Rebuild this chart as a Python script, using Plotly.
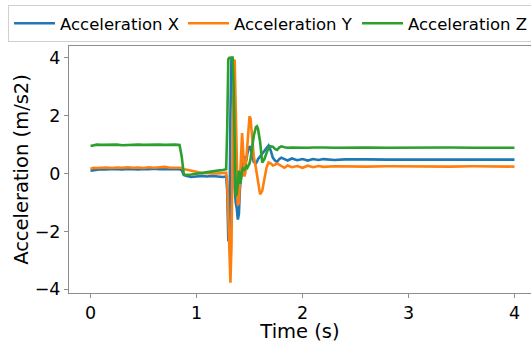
import plotly.graph_objects as go

# Time (s)
time = [0.00, 0.03, 0.06, 0.10, 0.15, 0.20, 0.25, 0.30, 0.35, 0.40, 0.45, 0.50, 0.55, 0.60, 0.65,
        0.70, 0.75, 0.80, 0.84, 0.86, 0.88, 0.90, 0.95, 1.00, 1.05, 1.10, 1.15, 1.20, 1.25, 1.28,
        1.29, 1.30, 1.31, 1.32, 1.33, 1.34, 1.35, 1.36, 1.37, 1.38, 1.39, 1.40, 1.41, 1.42, 1.43,
        1.44, 1.45, 1.46, 1.47, 1.48, 1.50, 1.51, 1.52, 1.54, 1.56, 1.57, 1.58, 1.60, 1.62, 1.64,
        1.66, 1.68, 1.70, 1.72, 1.74, 1.76, 1.78, 1.80, 1.83, 1.86, 1.90, 1.95, 2.00, 2.05, 2.10,
        2.15, 2.20, 2.30, 2.40, 2.50, 2.60, 2.80, 3.00, 3.20, 3.40, 3.60, 3.80, 4.00]

acc_x = [0.10, 0.12, 0.13, 0.15, 0.14, 0.16, 0.15, 0.14, 0.16, 0.15, 0.14, 0.16, 0.15, 0.17, 0.15,
         0.16, 0.15, 0.16, 0.15, 0.12, -0.05, -0.08, -0.12, -0.10, -0.08, -0.10, -0.08, -0.10, -0.12, -0.10,
         -0.60, -2.30, -2.30, 2.00, 4.00, 4.00, 2.00, -0.50, -1.00, -1.20, -1.59, -1.40, -0.50, 0.00, 0.20,
         0.30, 0.60, 0.50, 0.45, 0.70, 0.94, 0.90, 0.70, 0.40, 0.35, 0.40, 0.50, 0.60, 0.70, 0.80,
         0.90, 0.97, 0.80, 0.55, 0.45, 0.40, 0.50, 0.55, 0.50, 0.45, 0.52, 0.46, 0.50, 0.45, 0.50,
         0.47, 0.50, 0.47, 0.49, 0.48, 0.49, 0.48, 0.48, 0.49, 0.48, 0.48, 0.49, 0.48]

acc_y = [0.17, 0.20, 0.19, 0.20, 0.21, 0.19, 0.21, 0.20, 0.22, 0.20, 0.21, 0.19, 0.22, 0.20, 0.21,
         0.23, 0.20, 0.21, 0.20, 0.19, 0.15, 0.14, 0.10, 0.05, 0.02, 0.01, 0.00, 0.00, 0.02, 0.03,
         -0.30, -1.50, -3.00, -3.77, -2.50, 0.50, 3.90, 3.93, 2.00, -0.50, -1.10, -1.00, -0.20, 0.80, 1.40,
         0.80, -0.10, 0.00, 0.60, 1.20, 1.98, 1.90, 1.50, 0.60, 0.20, 0.00, -0.30, -0.72, -0.60, -0.20,
         0.20, 0.38, 0.35, 0.28, 0.30, 0.35, 0.30, 0.25, 0.20, 0.28, 0.22, 0.26, 0.20, 0.27, 0.22,
         0.26, 0.23, 0.25, 0.24, 0.25, 0.24, 0.25, 0.24, 0.25, 0.24, 0.25, 0.24, 0.24]

acc_z = [0.95, 0.97, 1.00, 0.99, 1.00, 0.99, 1.00, 0.98, 0.99, 1.00, 1.00, 0.99, 1.00, 0.99, 1.00,
         0.99, 1.00, 1.00, 0.99, 0.60, -0.02, -0.05, -0.03, 0.00, 0.03, 0.05, 0.08, 0.10, 0.12, 0.15,
         1.60, 3.95, 4.00, 4.00, 4.00, 4.00, 3.00, 0.50, -0.78, -0.70, -0.10, 0.10, -0.35, -0.20, 0.10,
         0.20, 0.10, 0.20, 0.25, 0.20, 0.35, 0.50, 0.80, 1.30, 1.60, 1.63, 1.55, 1.10, 0.38, 0.50,
         0.70, 0.90, 0.94, 0.93, 0.85, 0.82, 0.90, 0.94, 0.91, 0.89, 0.90, 0.89, 0.90, 0.89, 0.90,
         0.89, 0.90, 0.89, 0.90, 0.89, 0.90, 0.89, 0.90, 0.89, 0.90, 0.89, 0.90, 0.89]

series_names = ["Acceleration X", "Acceleration Y", "Acceleration Z"]
series_values = [acc_x, acc_y, acc_z]
colors = ["#1f77b4", "#ff7f0e", "#2ca02c"]

x_ticks = [0, 1, 2, 3, 4]
y_ticks = [-4, -2, 0, 2, 4]

FONT = "DejaVu Sans"
AXIS_COLOR = "#8c8c8c"

fig = go.Figure()
for name, vals, col in zip(series_names, series_values, colors):
    fig.add_trace(go.Scatter(x=time, y=vals, mode="lines", name=name,
                             line=dict(color=col, width=2.6)))

fig.update_layout(
    width=531, height=343,
    margin=dict(l=69, r=0, t=46, b=50, autoexpand=False),
    paper_bgcolor="white", plot_bgcolor="white",
    font=dict(family=FONT, color="black"),
    showlegend=True,
    legend=dict(
        orientation="h", x=-0.132, y=1.166, xanchor="left", yanchor="top",
        bgcolor="white", bordercolor="#d0d0d0", borderwidth=1,
        font=dict(family=FONT, size=16.5, color="black"),
        itemwidth=41, entrywidth=118,
    ),
    xaxis=dict(
        range=[-0.203, 4.156], tickvals=x_ticks, ticktext=[str(v) for v in x_ticks],
        showline=True, linecolor=AXIS_COLOR, linewidth=1, mirror=True,
        ticks="outside", ticklen=4, tickcolor=AXIS_COLOR,
        showgrid=False, zeroline=False, automargin=False,
        tickfont=dict(family=FONT, size=17.5, color="black"),
        title=dict(text="Time (s)", font=dict(family=FONT, size=19.5, color="black"), standoff=4),
    ),
    yaxis=dict(
        range=[-4.13, 4.41], tickvals=y_ticks, ticktext=["\u22124", "\u22122", "0", "2", "4"],
        showline=True, linecolor=AXIS_COLOR, linewidth=1, mirror=False,
        ticks="outside", ticklen=4, tickcolor=AXIS_COLOR,
        showgrid=False, zeroline=False, automargin=False,
        tickfont=dict(family=FONT, size=17.5, color="black"),
        title=dict(text="Acceleration (m/s2)", font=dict(family=FONT, size=19.5, color="black"), standoff=0),
    ),
)

fig.write_html("out.html", config={"staticPlot": True, "displayModeBar": False},
               post_script="document.body.style.margin='0';")
